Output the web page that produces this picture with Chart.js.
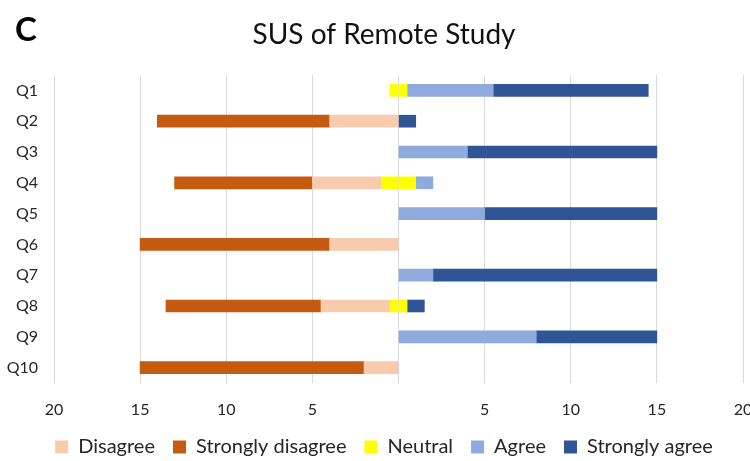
<!DOCTYPE html>
<html>
<head>
<meta charset="utf-8">
<script src="https://cdn.jsdelivr.net/npm/chart.js@4"></script>
<style>
  html, body { margin: 0; padding: 0; background: #fff; overflow: hidden; }
  #wrap { position: relative; width: 765px; height: 461px; }
  #panel { position: absolute; left: 15px; top: 8px; font: bold 33px Lato, sans-serif; color: #000; }
</style>
</head>
<body>
<div id="wrap">
  <canvas id="c" width="765" height="461"></canvas>
  <div id="panel">C</div>
</div>
<script>
// ---- data (counts of 15 participants) ----
const categories = ['Q1', 'Q2', 'Q3', 'Q4', 'Q5', 'Q6', 'Q7', 'Q8', 'Q9', 'Q10'];
const disagree         = [0, 4, 0, 4, 0, 4, 0, 4, 0, 2];
const stronglyDisagree = [0, 10, 0, 8, 0, 11, 0, 9, 0, 13];
const neutral          = [1, 0, 0, 2, 0, 0, 0, 1, 0, 0];
const agree            = [5, 0, 4, 1, 5, 0, 2, 0, 8, 0];
const stronglyAgree    = [9, 1, 11, 0, 10, 0, 13, 1, 7, 0];
const tickValues = [-20, -15, -10, -5, 0, 5, 10, 15, 20];

const COLORS = {
  disagree: '#F8CBAD',
  stronglyDisagree: '#C55A11',
  neutral: '#FFFF00',
  agree: '#8FAADC',
  stronglyAgree: '#2F5597'
};

const nz = v => (v === 0 ? null : v);
const FONT = 'Lato, "Open Sans", sans-serif';

const datasets = [
  { label: 'Neutral', data: neutral.map(v => nz(-v / 2)), backgroundColor: COLORS.neutral },
  { label: 'Disagree', data: disagree.map(v => nz(-v)), backgroundColor: COLORS.disagree },
  { label: 'Strongly disagree', data: stronglyDisagree.map(v => nz(-v)), backgroundColor: COLORS.stronglyDisagree },
  { label: 'Neutral ', data: neutral.map(v => nz(v / 2)), backgroundColor: COLORS.neutral },
  { label: 'Agree', data: agree.map(v => nz(v)), backgroundColor: COLORS.agree },
  { label: 'Strongly agree', data: stronglyAgree.map(v => nz(v)), backgroundColor: COLORS.stronglyAgree }
].map(d => Object.assign(d, { barThickness: 12, borderWidth: 0, stack: 's' }));

const legendRank = { 1: 0, 2: 1, 0: 2, 4: 3, 5: 4 };

// fix the legend box height so the plot area keeps the reference size
const legendHeightPlugin = {
  id: 'legendHeight',
  beforeLayout(chart) {
    const lg = chart.legend;
    if (lg && !lg._fixedHeight) {
      const orig = lg.fit.bind(lg);
      lg.fit = function () { orig(); this.height = 42; };
      lg._fixedHeight = true;
    }
  }
};

new Chart(document.getElementById('c'), {
  type: 'bar',
  data: { labels: categories, datasets },
  plugins: [legendHeightPlugin],
  options: {
    indexAxis: 'y',
    responsive: false,
    animation: false,
    layout: { padding: { left: 25, right: 22, top: 0, bottom: 0 } },
    scales: {
      x: {
        stacked: true,
        min: -20, max: 20,
        afterBuildTicks: s => { s.ticks = tickValues.map(v => ({ value: v })); },
        afterFit: s => { s.paddingLeft = 0; s.paddingRight = 0; s.height = 36; },
        grid: { color: '#d9d9d9', lineWidth: 1, drawTicks: false },
        border: { display: false },
        ticks: {
          padding: 17,
          color: '#262626',
          font: { family: FONT, size: 16 },
          maxRotation: 0,
          autoSkip: false,
          callback: v => (v === 0 ? '' : String(Math.abs(v)))
        }
      },
      y: {
        stacked: true,
        afterFit: s => { s.width = 29; s._computeLabelArea = () => null; },
        grid: { display: false, drawTicks: false },
        border: { display: false },
        ticks: { padding: 16, color: '#262626', font: { family: FONT, size: 16 } }
      }
    },
    plugins: {
      title: {
        display: true,
        text: 'SUS of Remote Study',
        color: '#111',
        font: { family: FONT, size: 28, weight: 'normal' },
        padding: { top: 18, bottom: 23.4 }
      },
      legend: {
        position: 'bottom',
        labels: {
          color: '#262626',
          font: { family: FONT, size: 20 },
          boxWidth: 13,
          boxHeight: 13,
          padding: 18,
          filter: item => item.datasetIndex !== 3,
          sort: (a, b) => legendRank[a.datasetIndex] - legendRank[b.datasetIndex]
        }
      },
      tooltip: { enabled: false }
    }
  }
});
</script>
</body>
</html>
